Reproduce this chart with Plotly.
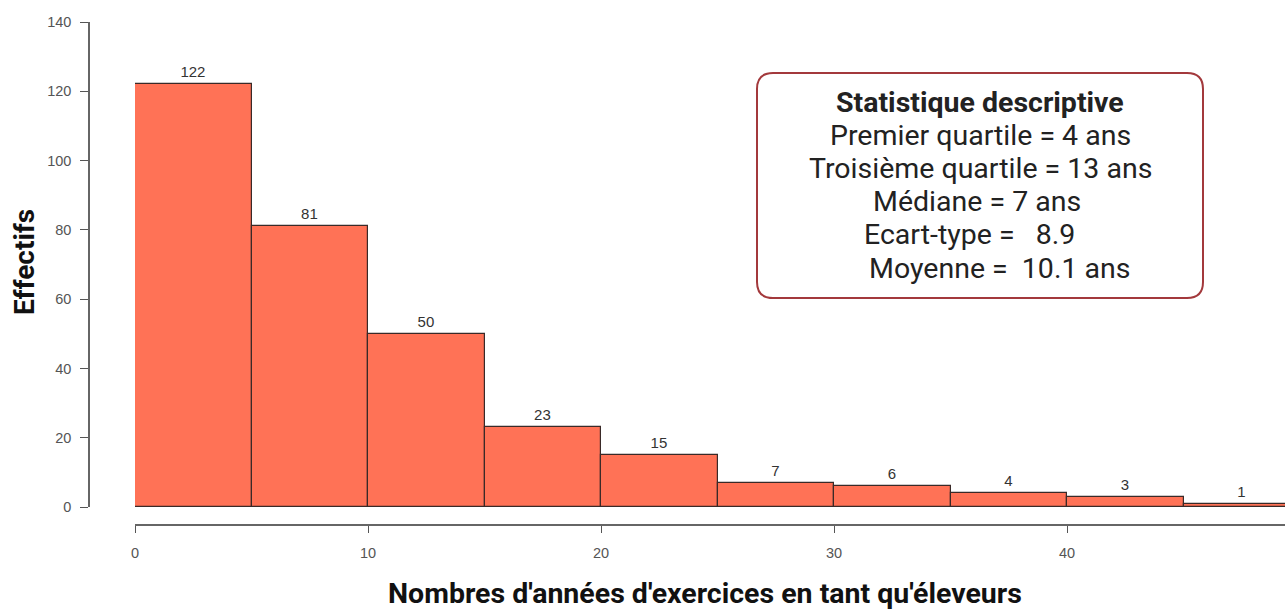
import plotly.graph_objects as go

# ---- data ----
bin_starts = [0, 5, 10, 15, 20, 25, 30, 35, 40, 45]
bin_width = 5
counts = [122, 81, 50, 23, 15, 7, 6, 4, 3, 1]
y_ticks = [0, 20, 40, 60, 80, 100, 120, 140]
x_ticks = [0, 10, 20, 30, 40, 50]
x_title = "Nombres d'années d'exercices en tant qu'éleveurs"
y_title = "Effectifs"
stats_title = "Statistique descriptive"
stats_lines = [
    "Premier quartile = 4 ans",
    "Troisième quartile = 13 ans",
    "Médiane = 7 ans",
    "Ecart-type =\u00a0\u00a0 8.9",
    "\u00a0Moyenne =\u00a0 10.1 ans",
]

W, H = 1285, 610
ML, MR, MT, MB = 89, 0, 22, 85
PW, PH = W - ML - MR, H - MT - MB


def px_x(p):
    return (p - ML) / PW


def px_y(p):
    return (H - MB - p) / PH


bar_color = "#FF7256"

fig = go.Figure()
fig.add_trace(go.Bar(
    x=[s + bin_width / 2 for s in bin_starts],
    y=counts,
    width=[bin_width] * len(counts),
    marker=dict(color=bar_color, line=dict(color="#3a2a28", width=1.2)),
    text=[str(c) for c in counts],
    textposition="outside",
    cliponaxis=False,
    textfont=dict(family="Liberation Sans, Arial", size=15, color="#333333"),
    hoverinfo="x+y",
))

x_dom0 = px_x(135)
y_dom0 = px_y(507)

fig.update_layout(
    width=W, height=H,
    margin=dict(l=ML, r=MR, t=MT, b=MB, autoexpand=False),
    paper_bgcolor="white", plot_bgcolor="white",
    showlegend=False,
    bargap=0,
    uniformtext=dict(minsize=8, mode="show"),
    xaxis=dict(
        domain=[x_dom0, 1],
        range=[0, PW * (1 - x_dom0) / (233 / 10)],
        anchor="free", position=0, automargin=False,
        tickvals=x_ticks, ticktext=[str(v) for v in x_ticks],
        ticks="outside", ticklen=7, tickwidth=1.2, tickcolor="#555555",
        showline=True, linecolor="#666666", linewidth=2,
        showgrid=False, zeroline=False,
        ticklabelstandoff=8,
        tickfont=dict(family="Liberation Sans, Arial", size=14.5, color="#555555"),
    ),
    yaxis=dict(
        domain=[y_dom0, 1],
        range=[0, 140],
        anchor="free", position=0, automargin=False,
        tickvals=y_ticks, ticktext=[str(v) for v in y_ticks],
        ticks="outside", ticklen=8, tickwidth=1.2, tickcolor="#555555",
        showline=True, linecolor="#666666", linewidth=1.5,
        showgrid=False, zeroline=False,
        ticklabelstandoff=6,
        tickfont=dict(family="Liberation Sans, Arial", size=14.5, color="#555555"),
    ),
)

# axis titles
fig.add_annotation(
    text="<b>" + y_title + "</b>", xref="paper", yref="paper",
    x=px_x(24), y=px_y(262), textangle=-90, showarrow=False,
    xanchor="center", yanchor="middle",
    font=dict(family="Roboto", size=28, color="#111111"),
)
fig.add_annotation(
    text="<b>" + x_title + "</b>", xref="paper", yref="paper",
    x=px_x(705), y=px_y(593), showarrow=False,
    xanchor="center", yanchor="middle",
    font=dict(family="Roboto", size=28.5, color="#111111"),
)


def conv_path(x0, x1, y0, y1, r):
    def P(a, b):
        return f"{px_x(a):.5f},{px_y(b):.5f}"
    return (
        f"M{P(x0 + r, y0)} L{P(x1 - r, y0)} Q{P(x1, y0)} {P(x1, y0 + r)} "
        f"L{P(x1, y1 - r)} Q{P(x1, y1)} {P(x1 - r, y1)} L{P(x0 + r, y1)} "
        f"Q{P(x0, y1)} {P(x0, y1 - r)} L{P(x0, y0 + r)} Q{P(x0, y0)} {P(x0 + r, y0)} Z"
    )


fig.add_shape(type="path", xref="paper", yref="paper",
              path=conv_path(757, 1203, 73, 298, 16),
              line=dict(color="#a3393c", width=2), fillcolor="white", layer="above")

centers_y = [103, 135, 168, 201, 235, 268]
centers_x = [980, 980, 980, 977, 969, 996]
all_lines = ["<b>" + stats_title + "</b>"] + stats_lines
for txt, cx, cy in zip(all_lines, centers_x, centers_y):
    fig.add_annotation(
        text=txt, xref="paper", yref="paper", x=px_x(cx), y=px_y(cy),
        showarrow=False, xanchor="center", yanchor="middle",
        font=dict(family="Roboto", size=28.5, color="#222222"),
    )

fig.write_html("out.html",
               config={"displayModeBar": False},
               post_script="document.body.style.margin='0';document.body.style.overflow='hidden';")
